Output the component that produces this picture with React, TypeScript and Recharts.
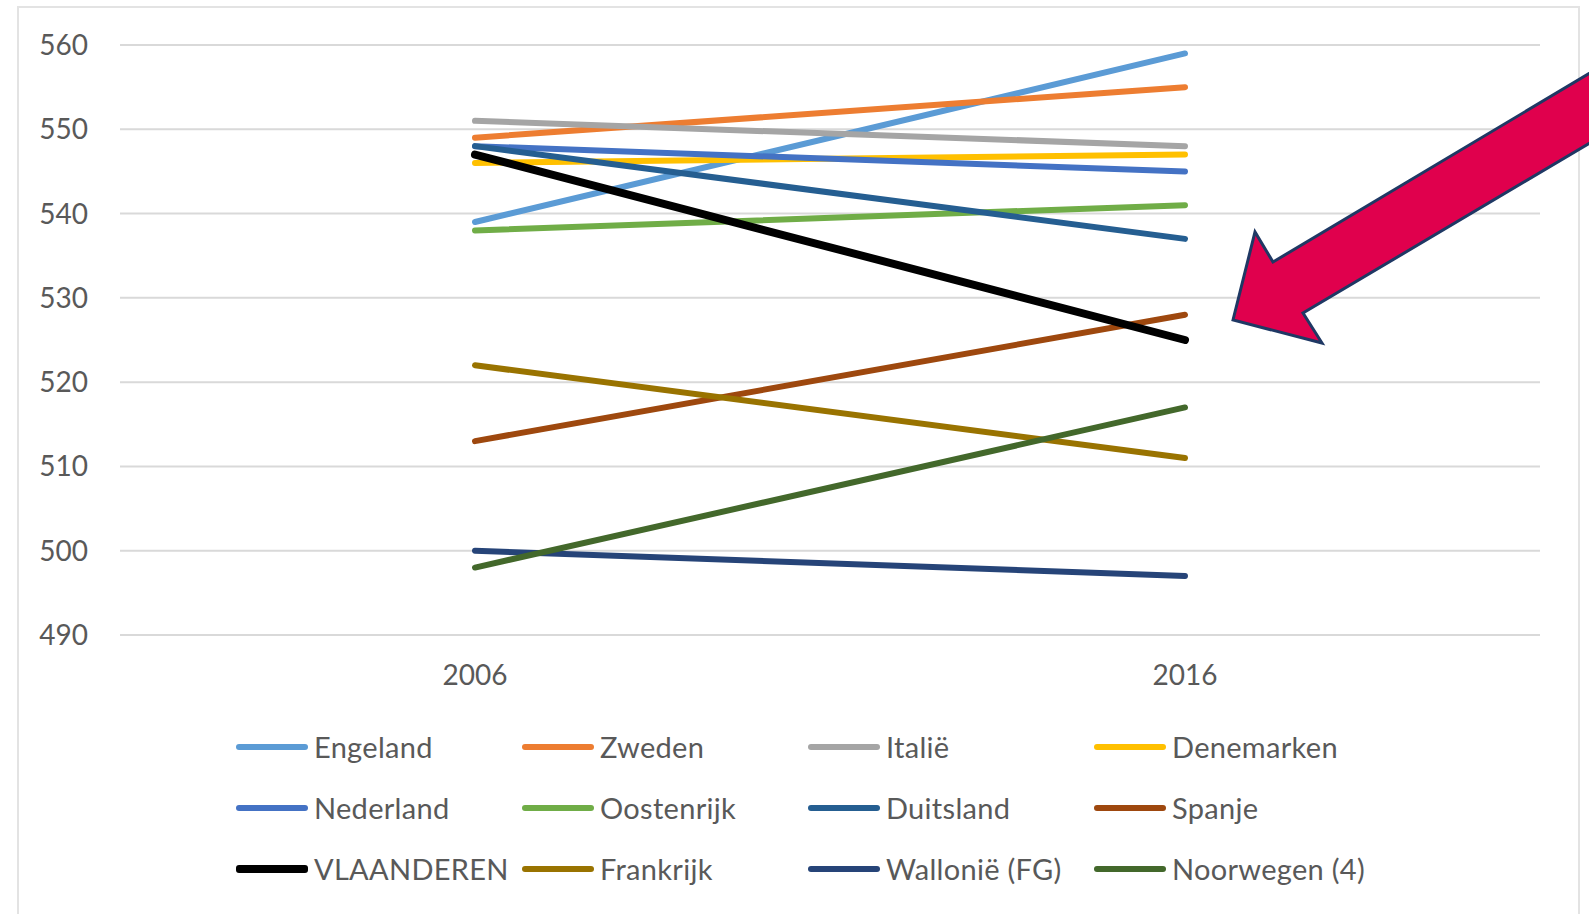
import { CartesianGrid, Line, LineChart, XAxis, YAxis } from 'recharts'

const years = ['2006', '2016']
const yTicks = [490, 500, 510, 520, 530, 540, 550, 560]

const engeland = [539, 559]
const zweden = [549, 555]
const italie = [551, 548]
const denemarken = [546, 547]
const nederland = [548, 545]
const oostenrijk = [538, 541]
const duitsland = [548, 537]
const spanje = [513, 528]
const vlaanderen = [547, 525]
const frankrijk = [522, 511]
const wallonie = [500, 497]
const noorwegen = [498, 517]

const series = [
  { name: 'Engeland', values: engeland, color: '#5B9BD5' },
  { name: 'Zweden', values: zweden, color: '#ED7D31' },
  { name: 'Italië', values: italie, color: '#A5A5A5' },
  { name: 'Denemarken', values: denemarken, color: '#FFC000' },
  { name: 'Nederland', values: nederland, color: '#4472C4' },
  { name: 'Oostenrijk', values: oostenrijk, color: '#70AD47' },
  { name: 'Duitsland', values: duitsland, color: '#255E91' },
  { name: 'Spanje', values: spanje, color: '#9E480E' },
  { name: 'VLAANDEREN', values: vlaanderen, color: '#000000' },
  { name: 'Frankrijk', values: frankrijk, color: '#997300' },
  { name: 'Wallonië (FG)', values: wallonie, color: '#264478' },
  { name: 'Noorwegen (4)', values: noorwegen, color: '#43682B' },
]

const data = years.map((year, i) => {
  const row: Record<string, string | number> = { year }
  series.forEach((s) => { row[s.name] = s.values[i] })
  return row
})

const FONT = 'Lato, "Open Sans", sans-serif'
const TEXT = '#595959'

function LegendGrid() {
  return (
    <div style={{ position: 'absolute', left: 236, top: 716, display: 'grid', gridTemplateColumns: 'repeat(4, 286px)', gridAutoRows: '61px' }}>
      {series.map((s) => (
        <div key={s.name} style={{ display: 'flex', alignItems: 'center' }}>
          <span style={{ width: 72, height: s.name === 'VLAANDEREN' ? 8 : 6, background: s.color, borderRadius: 3, marginRight: 6 }} />
          <span style={{ fontFamily: FONT, fontSize: 29, color: TEXT, whiteSpace: 'nowrap', letterSpacing: 0.3 }}>{s.name}</span>
        </div>
      ))}
    </div>
  )
}

export default function App() {
  return (
    <div style={{ position: 'absolute', left: 0, top: 0, width: 1589, height: 914, background: '#fff', overflow: 'hidden' }}>
      <div style={{ position: 'absolute', left: 17, top: 6, width: 1563, height: 910, border: '2px solid #e3e3e3', boxSizing: 'border-box' }} />
      <LineChart width={1589} height={914} data={data} margin={{ top: 45, right: 49, left: 0, bottom: 0 }}>
        <CartesianGrid vertical={false} stroke="#d9d9d9" strokeWidth={2} />
        <XAxis
          dataKey="year"
          height={279}
          padding={{ left: 355, right: 355 }}
          axisLine={false}
          tickLine={false}
          tickSize={0}
          tickMargin={30}
          tick={{ fill: TEXT, fontSize: 28, fontFamily: FONT }}
        />
        <YAxis
          domain={[490, 560]}
          ticks={yTicks}
          width={120}
          axisLine={false}
          tickLine={false}
          tickSize={0}
          tickMargin={32}
          tick={{ fill: TEXT, fontSize: 28, fontFamily: FONT }}
        />
        {series.map((s) => (
          <Line
            key={s.name}
            dataKey={s.name}
            stroke={s.color}
            strokeWidth={s.name === 'VLAANDEREN' ? 8 : 6}
            strokeLinecap="round"
            dot={false}
            activeDot={false}
            isAnimationActive={false}
          />
        ))}
      </LineChart>
      <LegendGrid />
      <svg width={1589} height={914} style={{ position: 'absolute', left: 0, top: 0, pointerEvents: 'none' }}>
        <polygon
          points="1233,320 1255,232 1273,262 1600,67 1600,137 1303,313 1322,343"
          fill="#E0004D"
          stroke="#1F3864"
          strokeWidth={3}
          strokeLinejoin="miter"
        />
      </svg>
    </div>
  )
}
